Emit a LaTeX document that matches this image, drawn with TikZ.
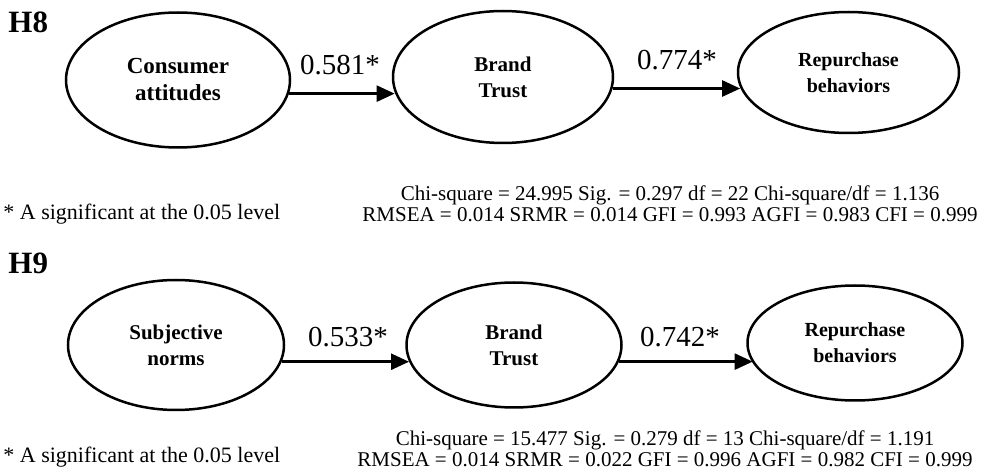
\documentclass[tikz,border=0pt]{standalone}
\usepackage{fontspec}
\setmainfont{Liberation Serif}
\usetikzlibrary{shapes.geometric,arrows.meta}
\tikzset{
  construct/.style={ellipse,draw,line width=1.25pt,inner sep=0pt,align=center,
    font=\bfseries\fontsize{10.5}{13}\selectfont},
  arr/.style={line width=1.25pt,-{Triangle[length=9pt,width=8pt]}},
  coef/.style={font=\fontsize{14.5}{16}\selectfont,inner sep=0pt},
  hyp/.style={font=\bfseries\fontsize{15.5}{18}\selectfont,inner sep=0pt,anchor=west},
  fit/.style={font=\fontsize{10.5}{10}\selectfont,inner sep=0pt,align=center},
  note/.style={font=\fontsize{11}{12}\selectfont,inner sep=0pt,anchor=west}
}
\begin{document}
\begin{tikzpicture}[x=0.5pt,y=-0.5pt]
\useasboundingbox (0,0) rectangle (993,476);
% ---------------- H8
\node[hyp] (h8) at (8,22) {H8};
\node[construct,minimum width=112pt,minimum height=67.5pt,
  font=\bfseries\fontsize{11.5}{13.5}\selectfont] (ca) at (178,80) {Consumer\\attitudes};
\node[construct,minimum width=110pt,minimum height=66pt] (bt1) at (503,77) {Brand\\Trust};
\node[construct,minimum width=110.5pt,minimum height=60.5pt,
  font=\bfseries\fontsize{10}{13}\selectfont] (rb1) at (848.5,72.5) {Repurchase\\behaviors};
\draw[arr] (ca.-7) -- (bt1.188.5 |- ca.-7);
\draw[arr] (bt1.-6.3) -- (rb1.188.8 |- bt1.-6.3);
\node[coef] (c1) at (340,65) {0.581*};
\node[coef] (c2) at (677,60) {0.774*};
\node[fit] (f1a) at (670,195) {Chi-square = 24.995 Sig. = 0.297 df = 22 Chi-square/df = 1.136};
\node[fit] (f1b) at (670,215) {RMSEA = 0.014 SRMR = 0.014 GFI = 0.993 AGFI = 0.983 CFI = 0.999};
\node[note] (n1) at (3,214) {* A significant at the 0.05 level};
% ---------------- H9
\node[hyp] (h9) at (8,263) {H9};
\node[construct,minimum width=108pt,minimum height=65pt] (sn) at (176,345) {Subjective\\norms};
\node[construct,minimum width=107.5pt,minimum height=62.5pt] (bt2) at (514,345) {Brand\\Trust};
\node[construct,minimum width=107.5pt,minimum height=57.5pt,
  font=\bfseries\fontsize{10}{13}\selectfont] (rb2) at (855,343) {Repurchase\\behaviors};
\draw[arr] (sn.-9.3) -- (bt2.189.3 |- sn.-9.3);
\draw[arr] (bt2.-9.9) -- (rb2.191.2 |- bt2.-9.9);
\node[coef] (c3) at (348,337) {0.533*};
\node[coef] (c4) at (680,337) {0.742*};
\node[fit] (f2a) at (665,440) {Chi-square = 15.477 Sig. = 0.279 df = 13 Chi-square/df = 1.191};
\node[fit] (f2b) at (665,460) {RMSEA = 0.014 SRMR = 0.022 GFI = 0.996 AGFI = 0.982 CFI = 0.999};
\node[note] (n2) at (3,457) {* A significant at the 0.05 level};
\end{tikzpicture}
\end{document}
